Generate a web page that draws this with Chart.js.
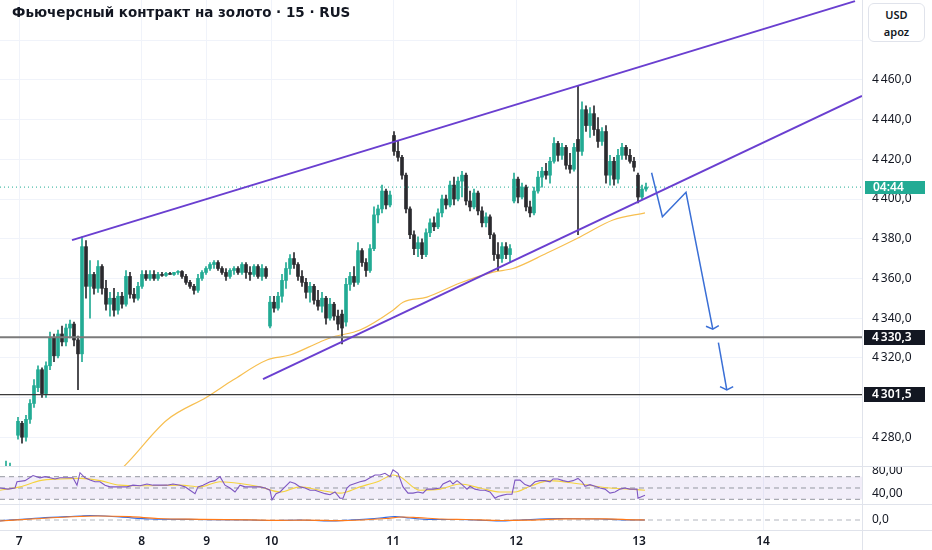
<!DOCTYPE html>
<html><head><meta charset="utf-8">
<script src="https://cdn.jsdelivr.net/npm/chart.js@4.4.1/dist/chart.umd.min.js"></script>
<style>
html,body{margin:0;padding:0;background:#fff;}
body{width:932px;height:550px;overflow:hidden;position:relative;font-family:"Noto Sans",sans-serif;}
.pane{position:absolute;left:0;width:932px;}
.pane canvas{display:block;}
#title{position:absolute;left:12px;top:3px;font:bold 13.5px "DejaVu Sans",sans-serif;color:#131722;line-height:18px;white-space:nowrap;}
#unit{position:absolute;left:868px;top:3px;width:57px;height:39px;border:1px solid #e0e3eb;border-radius:6px;background:#fff;text-align:center;font:600 11px "Noto Sans",sans-serif;color:#131722;line-height:17px;padding-top:2px;box-sizing:border-box;}
.hsep{position:absolute;left:0;width:932px;height:1px;background:#e0e3eb;}
.vsep{position:absolute;left:862px;top:0;width:1px;height:550px;background:#e0e3eb;}
</style></head>
<body>
<div class="pane" style="top:0;height:466px"><canvas id="main" width="932" height="466"></canvas></div>
<div class="pane" style="top:466px;height:38px"><canvas id="rsi" width="932" height="38"></canvas></div>
<div class="pane" style="top:504px;height:46px"><canvas id="macd" width="932" height="46"></canvas></div>
<div class="hsep" style="top:466px"></div>
<div class="hsep" style="top:504px"></div>
<div class="hsep" style="top:530px"></div>
<div class="vsep"></div>
<div id="title">Фьючерсный контракт на золото · 15 · RUS</div>
<div id="unit">USD<br>apoz</div>
<script>
// ---------- DATA ----------
const firstIdx = -3;
const opens = [4255,4256,4262,
4281,4287,4280,4289,4297,4305,4314,4302,4316,4330,
4321,4332,4328,4335,4337,4329,4322,4376,4356,4362,
4355,4366,4355,4347,4350,4344,4351,4347,4361,4352,
4350,4356,4362,4360,4362,4360,4362,4361.5,4362.5,4362,
4363,4363.5,4361,4358,4356,4354,4360,4363,4365,4367,
4368,4365,4363,4361,4364,4365,4363,4367,4363,4362,
4366,4361,4365,4336,4348,4345,4351,4359,4365,4370,
4367,4361,4358,4353,4356,4349,4346,4350,4340,4347,
4341,4342,4338,4357,4361,4358,4374,4368,4364,4375,
4392,4395,4404,4397,4432,4424,4421,4412,4395,4382,
4375,4378,4372,4383,4388,4386,4393,4400,4397,4407,
4400,4409,4412,4399,4396,4403,4394,4388,4391,4382,
4372,4370,4376,4372,4399,4410,4401,4406,4396,4393,
4404,4411,4414,4412,4419,4428,4422,4426,4417,4415,
4430,4424,4445,4437,4443,4435,4429,4434,4412,4419,
4410,4422,4426,4422,4419,4412,4401,4405];
const highs = [4268,4267,4262,
4290,4288,4291,4299,4309,4316,4315,4318,4333,4332,
4334,4336,4337,4339,4338,4331,4381,4379,4369,4363,
4369,4367,4359,4353,4355,4353,4353,4364,4363,4355,
4358,4364,4364,4364,4364,4363,4363,4363,4363,4363,
4364,4364,4362,4359,4357,4362,4364,4366,4368,4369,
4369,4366,4365,4365,4366,4366,4368,4368,4366,4367,
4367,4367,4366,4351,4351,4353,4362,4368,4372,4373,
4368,4364,4360,4358,4357,4354,4353,4351,4350,4348,
4344,4344,4360,4363,4366,4378,4375,4370,4377,4396,
4397,4407,4405,4404,4434,4429,4422,4413,4396,4384,
4381,4380,4385,4390,4391,4395,4402,4402,4409,4411,
4411,4414,4413,4404,4405,4404,4396,4393,4392,4383,
4378,4378,4378,4377,4413,4411,4408,4407,4399,4406,
4414,4416,4418,4421,4431,4429,4428,4427,4423,4428,
4457,4449,4447,4446,4447,4441,4436,4437,4422,4421,
4425,4428,4427,4425,4421,4413,4407,4408];
const lows = [4250,4254,4255,
4279,4277,4278,4287,4295,4303,4300,4300,4314,4318,
4320,4326,4326,4330,4326,4304,4318,4350,4340,4352,
4353,4352,4344,4341,4341,4342,4345,4346,4350,4348,
4349,4355,4359,4359,4359,4359,4361,4361,4362,4361.5,
4362,4360,4357,4355,4352,4353,4359,4362,4364,4365,
4364,4362,4359,4360,4362,4362,4362,4360,4359,4361,
4360,4359,4360,4335,4343,4344,4348,4355,4362,4365,
4359,4356,4350,4348,4347,4344,4343,4337,4339,4339,
4334,4327,4336,4354,4356,4357,4366,4361,4363,4374,
4388,4393,4395,4396,4422,4419,4410,4393,4380,4372,
4371,4370,4371,4381,4384,4385,4391,4395,4396,4397,
4399,4401,4397,4394,4395,4392,4386,4386,4380,4369,
4364,4368,4370,4368,4398,4398,4400,4394,4391,4392,
4403,4406,4410,4408,4418,4419,4420,4415,4413,4414,
4382,4422,4434,4431,4432,4426,4427,4408,4407,4407,
4408,4420,4420,4418,4414,4398,4400,4404];
const closes = [4262,4265,4258,
4288,4280,4289,4297,4306,4314,4302,4316,4330,4321,
4332,4328,4335,4337,4329,4322,4376,4356,4362,4355,
4366,4355,4347,4350,4344,4351,4347,4361,4352,4350,
4356,4362,4360,4362,4360,4362,4361.5,4362.5,4362,4363,
4363.5,4361,4358,4356,4354,4360,4363,4365,4367,4368,
4365,4363,4361,4364,4365,4363,4367,4363,4362,4366,
4361,4365,4361,4348,4345,4351,4359,4365,4370,4367,
4361,4358,4353,4356,4349,4346,4350,4340,4347,4341,
4337,4335,4357,4361,4358,4374,4368,4364,4375,4392,
4395,4404,4397,4402,4424,4421,4412,4395,4382,4375,
4378,4372,4383,4388,4386,4393,4400,4397,4407,4400,
4409,4412,4399,4396,4403,4394,4388,4391,4382,4372,
4370,4376,4372,4375,4410,4401,4406,4396,4393,4404,
4411,4414,4412,4419,4428,4422,4426,4417,4415,4426,
4424,4445,4437,4443,4435,4429,4434,4412,4419,4410,
4422,4426,4422,4419,4416,4401,4405,4406];

const emaX = [24,28,37.25,47.25,53.75,62.25,68,75.5,78.75,85.5,93.75,96.25,102.25,110.5,118.75,123.75,132.25,140.5,148.75,156.75];
const emaY = [4260,4268.5,4288.7,4300.3,4308.8,4318.9,4321.4,4328,4330.5,4334,4344,4348,4350.6,4357.7,4363.2,4365,4372.8,4380.9,4389.4,4393];

const upperChannel = [[13.5,4379.3],[209.25,4499.7]];
const lowerChannel = [[61.25,4309.3],[211,4451.9]];
const arrowPath1 = [[158.4,4413.2],[161.1,4391.1],[167,4403.4],[173.7,4334.4]];
const arrowHead1 = [[172,4335.9],[173.7,4334.4],[175.2,4336.2]];
const arrowPath2 = [[175.1,4327.6],[177.2,4303.8]];
const arrowHead2 = [[175.5,4305.5],[177.2,4303.8],[178.8,4305.5]];

const levels = [4330.3, 4301.5];
const lastPrice = 4406;
const countdownText = '04:44';

const priceTicks = [4280,4300,4320,4340,4360,4380,4400,4420,4440,4460,4480];
const priceLabelTicks = [4280,4320,4340,4360,4380,4400,4420,4440,4460];

const dayTickX = [0.3,30.9,47.2,63.4,93.75,124.5,155.25,186.25];
const dayTickLabels = ['7','8','9','10','11','12','13','14'];

const rsiX = [-4.5,-2.5,-0.75,-0.25,1.75,3.75,5.5,6.75,8,9.25,10.5,12.25,13.75,14.75,15.5,16.75,18,19.25,20.5,21.75,23,25.5,27.25,28.75,30.5,32.25,33.75,35.5,37.25,38.75,40.5,41.75,43,44.25,45,46.25,48,49.25,50.5,51.75,53,54.25,55.5,56.75,59.25,60.5,61.75,63,63.5,64.5,65.5,66.75,68,69.25,70.5,71.75,73,74.25,75.5,76.75,78,79.25,80.5,81.25,82.25,83,84.25,85.5,86.75,88,89.25,90.5,91.75,93,93.75,95,96.25,97.5,98.75,100,101.25,102.25,103.75,105.5,106.25,108,108.75,109.75,111,112.25,113,114.25,115.5,116.75,118,119.25,120,121,122.25,123.5,124.25,125.5,126.75,128,129.25,130.5,131.75,133,133.75,135,136.25,137.5,138.75,140,141,141.75,143,144.25,145.5,146.75,148,149.25,150.5,151.75,153,154.75,155,156,156.75];
const rsiY = [50,48,50,61,63,72,68,70,68,66,68,68,68,55,77,68,64,61,61,55,52,52,52,55,54,57,55,55,55,57,55,52,46,40,52,55,61,63,70,55,50,43,55,52,52,52,50,46,29,40,43,52,61,58,52,50,46,46,43,40,38,43,32,32,50,55,58,61,63,68,73,73,76,70,82,76,52,41,41,43,41,48,48,50,57,63,57,63,56,48,53,48,46,46,43,32,35,37,39,39,64,64,56,53,61,63,63,61,66,66,63,61,63,67,61,53,56,53,50,48,41,43,48,50,48,48,32,35,37];
const rsiMaX = [-4.5,0.5,5.5,10.5,15.5,20.5,25.5,30.5,40.5,45.5,50.5,55.5,60.5,65.5,70.5,75.5,80.5,85.5,90.5,93.75,95.5,100.5,105.5,110.5,115.5,120.5,124.25,128,133,140.5,148,153,156.75];
const rsiMaY = [46,52,63,66,67,63,55,54,55,52,61,58,52,43,52,46,41,52,63,73,70,46,48,57,50,43,43,53,63,57,50,48,46];
const rsiBands = [70,50,30];
const rsiTicks = [40,80];

const macdX = [-4.5,5.5,15.5,18,25.5,33,45.5,58,63,70.5,78,83,90.5,94.25,98,103,110.5,120.5,125.5,135.5,145.5,153,156.75];
const macdY = [-1,2,4,4.5,3,1,0.5,0,-0.5,0,-1,0,2,3.5,2,0.5,0.5,-1,0,1.5,1,0,0];
const signalX = [-4.5,5.5,15.5,20,28,35,45.5,58,65,72,80,86,92,96,100,106,112,121,127,137,147,154,156.75];
const signalY = [-1,1.5,3.5,4,3.3,1.5,0.7,0.2,-0.3,-0.2,-0.7,0,1.5,3,2.3,1,0.5,-0.5,-0.2,1.2,1.1,0.2,0];
const macdTicks = [0];

// ---------- HELPERS ----------
const X_MIN = -4.5, X_MAX = 211;
const TEAL = '#22ab94', DARK = '#2a2a2e', PURPLE = '#6a3fd0', BLUE = '#3a6fd6';
const FONT = '"Noto Sans", sans-serif';
const TXT = '#131722', GRID = '#f0f3fa';

function fmtNum(v, d){
  const s = Number(v).toFixed(d).replace('.', ',');
  return s.replace(/^(-?\d)(\d{3})/, '$1\u2009$2');
}
const pairPts = a => a.map(p => ({x:p[0], y:p[1]}));
const zipPts = (xs, ys) => xs.map((x,k) => ({x, y:ys[k]}));
function lineDS(data, color, width, dash, smooth){
  const ds = {type:'line', data, borderColor:color, borderWidth:width, borderDash:dash||[],
          pointRadius:0, fill:false, tension:0, clip:true};
  if (smooth) ds.cubicInterpolationMode = 'monotone';
  return ds;
}
function xScale(showLabels){
  return {
    type:'linear', min:X_MIN, max:X_MAX, offset:false,
    afterBuildTicks: s => { s.ticks = dayTickX.map(v => ({value:v})); },
    grid:{color:GRID, drawTicks:false, offset:false},
    border:{display:false},
    ticks:{display:showLabels, autoSkip:false, maxRotation:0, padding:4,
      color:TXT, font:{family:FONT, size:12, weight:'600'},
      callback:(v,i) => dayTickLabels[i]},
    afterFit: s => { if (showLabels) s.height = 20; s.paddingLeft = 0; s.paddingRight = 0; }
  };
}
function yScale(min, max, tickVals, labelFn, gridOn){
  return {
    type:'linear', position:'right', min, max,
    afterBuildTicks: s => { s.ticks = tickVals.map(v => ({value:v})); },
    grid:{display:gridOn, color:GRID, drawTicks:false},
    border:{display:false},
    ticks:{padding:10, color:TXT, font:{family:FONT, size:12}, callback:labelFn},
    afterFit: s => { s.width = 70; s.paddingTop = 0; s.paddingBottom = 0; }
  };
}
const baseOpts = {
  responsive:false, animation:false, events:[],
  layout:{padding:0},
  plugins:{legend:{display:false}, tooltip:{enabled:false}}
};

// ---------- MAIN CHART ----------
const candleX = opens.map((_,k) => firstIdx + k);
const candleColors = closes.map((c,k) => c >= opens[k] ? TEAL : DARK);
const wickData = candleX.map((x,k) => ({x, y:[lows[k], highs[k]]}));
const bodyData = candleX.map((x,k) => ({x, y:[opens[k], closes[k]]}));
const levelStyles = [{c:'#7b7b7b', w:2}, {c:'#3b3b3b', w:1.2}];

function drawBox(ctx, x, yc, w, h, bg, text){
  ctx.fillStyle = bg;
  ctx.fillRect(x, Math.round(yc - h/2), w, h);
  ctx.fillStyle = '#ffffff';
  ctx.font = '600 12px ' + FONT;
  ctx.textAlign = 'left';
  ctx.textBaseline = 'middle';
  ctx.fillText(text, x + 8, yc + 0.5);
}
const axisBoxes = {
  id:'axisBoxes',
  afterDraw(chart){
    const ctx = chart.ctx, ys = chart.scales.y, left = chart.chartArea.right + 2;
    ctx.save();
    levels.forEach(lv => drawBox(ctx, left, ys.getPixelForValue(lv), 61, 15, '#131722', fmtNum(lv,1)));
    drawBox(ctx, left + 1, ys.getPixelForValue(lastPrice), 60, 13, TEAL, countdownText);
    ctx.restore();
  }
};

new Chart(document.getElementById('main'), {
  type:'line',
  data:{datasets:[
    lineDS(pairPts(upperChannel), PURPLE, 2),
    lineDS(pairPts(lowerChannel), PURPLE, 2),
    lineDS(pairPts(arrowPath1), BLUE, 1.5),
    lineDS(pairPts(arrowHead1), BLUE, 1.5),
    lineDS(pairPts(arrowPath2), BLUE, 1.5),
    lineDS(pairPts(arrowHead2), BLUE, 1.5),
    ...levels.map((lv,k) => lineDS([{x:X_MIN,y:lv},{x:X_MAX,y:lv}], levelStyles[k].c, levelStyles[k].w)),
    lineDS([{x:X_MIN,y:lastPrice},{x:X_MAX,y:lastPrice}], TEAL, 1, [1,3]),
    {type:'bar', data:bodyData, backgroundColor:candleColors, borderWidth:0,
     barThickness:3, minBarLength:1, grouped:false},
    {type:'bar', data:wickData, backgroundColor:candleColors, borderWidth:0,
     barThickness:1, grouped:false},
    lineDS(zipPts(emaX, emaY), '#f7bf50', 1.2, null, true)
  ]},
  options:{...baseOpts,
    scales:{
      x: xScale(false),
      y: yScale(4265.5, 4500.25, priceTicks, v => priceLabelTicks.includes(v) ? fmtNum(v,1) : '', true)
    }
  },
  plugins:[axisBoxes]
});

// ---------- RSI ----------
const rsiBand = {
  id:'rsiBand',
  beforeDatasetsDraw(chart){
    const {ctx, chartArea:a} = chart, ys = chart.scales.y;
    const t = ys.getPixelForValue(rsiBands[0]), b = ys.getPixelForValue(rsiBands[2]);
    ctx.save();
    ctx.fillStyle = 'rgba(126,87,194,0.10)';
    ctx.fillRect(a.left, t, a.right - a.left, b - t);
    ctx.restore();
  }
};
new Chart(document.getElementById('rsi'), {
  type:'line',
  data:{datasets:[
    lineDS(zipPts(rsiX, rsiY), '#7e57c2', 1.1),
    lineDS(zipPts(rsiMaX, rsiMaY), '#f5d33f', 1.1, null, true),
    ...rsiBands.map(b => lineDS([{x:X_MIN,y:b},{x:X_MAX,y:b}], '#9598a1', 1, [5,4]))
  ]},
  options:{...baseOpts,
    scales:{
      x: xScale(false),
      y: yScale(21.7, 88.9, rsiTicks, v => fmtNum(v,2), false)
    }
  },
  plugins:[rsiBand]
});

// ---------- MACD ----------
new Chart(document.getElementById('macd'), {
  type:'line',
  data:{datasets:[
    lineDS(zipPts(signalX, signalY), '#ff7a1a', 1.2, null, true),
    lineDS(zipPts(macdX, macdY), '#2f6bea', 1.2, null, true),
    lineDS([{x:X_MIN,y:0},{x:X_MAX,y:0}], '#b2b5be', 1, [5,4])
  ]},
  options:{...baseOpts,
    scales:{
      x: xScale(true),
      y: yScale(-10, 16, macdTicks, v => fmtNum(v,1), false)
    }
  }
});
</script>
</body></html>
